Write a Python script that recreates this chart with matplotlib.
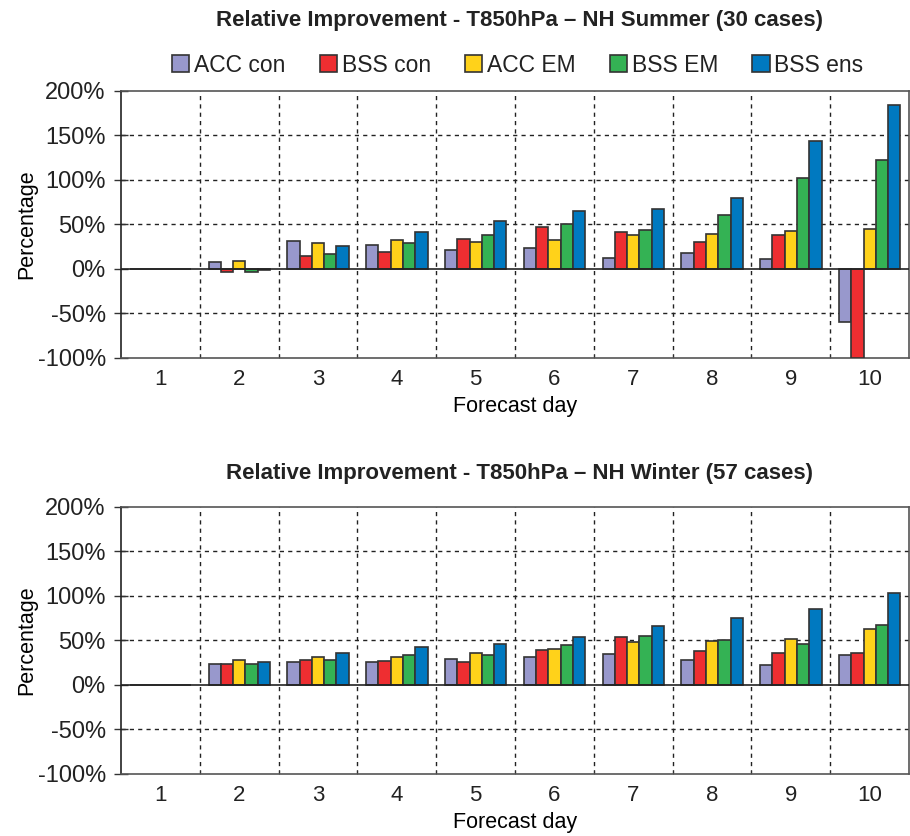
import numpy as np
import matplotlib
matplotlib.use("Agg")
import matplotlib.pyplot as plt

plt.rcParams['font.family'] = ['Liberation Sans', 'DejaVu Sans']
plt.rcParams['text.color'] = '#222222'

# Forecast days and series
days = [1, 2, 3, 4, 5, 6, 7, 8, 9, 10]
series_names = ["ACC con", "BSS con", "ACC EM", "BSS EM", "BSS ens"]
colors = ["#9898cc", "#ee2e31", "#ffd21a", "#34b254", "#0079c0"]

# NH Summer (30 cases), values in %
summer_acc_con = [0, 8.2, 31.4, 26.9, 20.9, 23.9, 12.3, 17.9, 11.6, -59.8]
summer_bss_con = [0, -3.7, 15.0, 19.0, 33.6, 46.7, 41.5, 30.3, 38.5, -100.0]
summer_acc_em = [0, 9.3, 29.5, 32.5, 29.9, 32.9, 38.1, 38.9, 42.6, 44.5]
summer_bss_em = [0, -3.4, 17.2, 29.2, 38.1, 50.1, 43.4, 60.6, 102.4, 122.2]
summer_bss_ens = [0, -1.5, 25.8, 41.5, 53.8, 65.0, 67.7, 79.6, 143.6, 184.3]

# NH Winter (57 cases), values in %
winter_acc_con = [0, 23.9, 25.4, 25.8, 28.8, 31.4, 35.1, 27.7, 22.8, 33.6]
winter_bss_con = [0, 23.9, 28.4, 26.5, 25.8, 39.6, 53.5, 38.1, 35.5, 36.3]
winter_acc_em = [0, 27.7, 31.4, 31.8, 36.3, 40.0, 47.9, 49.0, 51.6, 62.8]
winter_bss_em = [0, 23.2, 28.4, 33.6, 33.6, 44.5, 54.6, 50.1, 46.0, 67.3]
winter_bss_ens = [0, 26.2, 35.5, 42.2, 45.6, 54.2, 66.2, 74.8, 85.6, 102.8]

yticks = [-100, -50, 0, 50, 100, 150, 200]
ytick_labels = ["-100%", "-50%", "0%", "50%", "100%", "150%", "200%"]

fig = plt.figure(figsize=(9.1, 8.36), dpi=100)
ax_top = fig.add_axes([0.133, 0.5718, 0.866, 0.3194])
ax_bot = fig.add_axes([0.133, 0.0742, 0.866, 0.3194])

bar_w = 0.156


def draw_panel(ax, data):
    x = np.array(days)
    for i, vals in enumerate(data):
        ax.bar(x + (i - 2) * bar_w, vals, width=bar_w, color=colors[i],
               edgecolor="#333333", linewidth=1.2, label=series_names[i], zorder=3)
    ax.set_xlim(0.5, 10.5)
    ax.set_ylim(-100, 200)
    ax.set_yticks(yticks)
    ax.set_yticklabels(ytick_labels, fontsize=17, color="#222222")
    ax.set_xticks(days)
    ax.set_xticklabels([str(d) for d in days], fontsize=16, color="#222222")
    ax.set_xticks(np.arange(1.5, 10.5, 1), minor=True)
    ax.tick_params(axis='x', which='major', length=0, pad=8)
    ax.tick_params(axis='x', which='minor', length=3, direction='in', color="#333333")
    ax.tick_params(axis='y', length=10, width=1, direction='inout', color="#333333", pad=6)
    # dashed grid
    for yv in [50, 100, 150, -50]:
        ax.axhline(yv, color="#222222", linestyle=(0, (3, 3)), linewidth=1, zorder=1)
    for xv in np.arange(1.5, 10.5, 1):
        ax.axvline(xv, color="#222222", linestyle=(0, (3, 3)), linewidth=1, zorder=1)
    ax.axhline(0, color="#222222", linewidth=1.2, zorder=4)
    for s in ax.spines.values():
        s.set_color("#555555")
        s.set_linewidth(1.2)
    ax.spines['left'].set_color("#222222")
    ax.set_ylabel("Percentage", fontsize=15.5, labelpad=0)
    ax.set_xlabel("Forecast day", fontsize=15.5, labelpad=4)


draw_panel(ax_top, [summer_acc_con, summer_bss_con, summer_acc_em,
                    summer_bss_em, summer_bss_ens])
draw_panel(ax_bot, [winter_acc_con, winter_bss_con, winter_acc_em,
                    winter_bss_em, winter_bss_ens])

fig.text(0.571, 0.976, "Relative Improvement - T850hPa \u2013 NH Summer (30 cases)",
         fontsize=16, fontweight="bold", ha="center", va="center")
fig.text(0.571, 0.434, "Relative Improvement - T850hPa \u2013 NH Winter (57 cases)",
         fontsize=16, fontweight="bold", ha="center", va="center")

handles, labels = ax_top.get_legend_handles_labels()
fig.legend(handles, labels, loc="center", bbox_to_anchor=(0.569, 0.922), ncol=5,
           frameon=False, fontsize=16.5, handlelength=0.75, handleheight=0.75,
           handletextpad=0.2, columnspacing=1.5)

fig.savefig("out.png", dpi=100)
